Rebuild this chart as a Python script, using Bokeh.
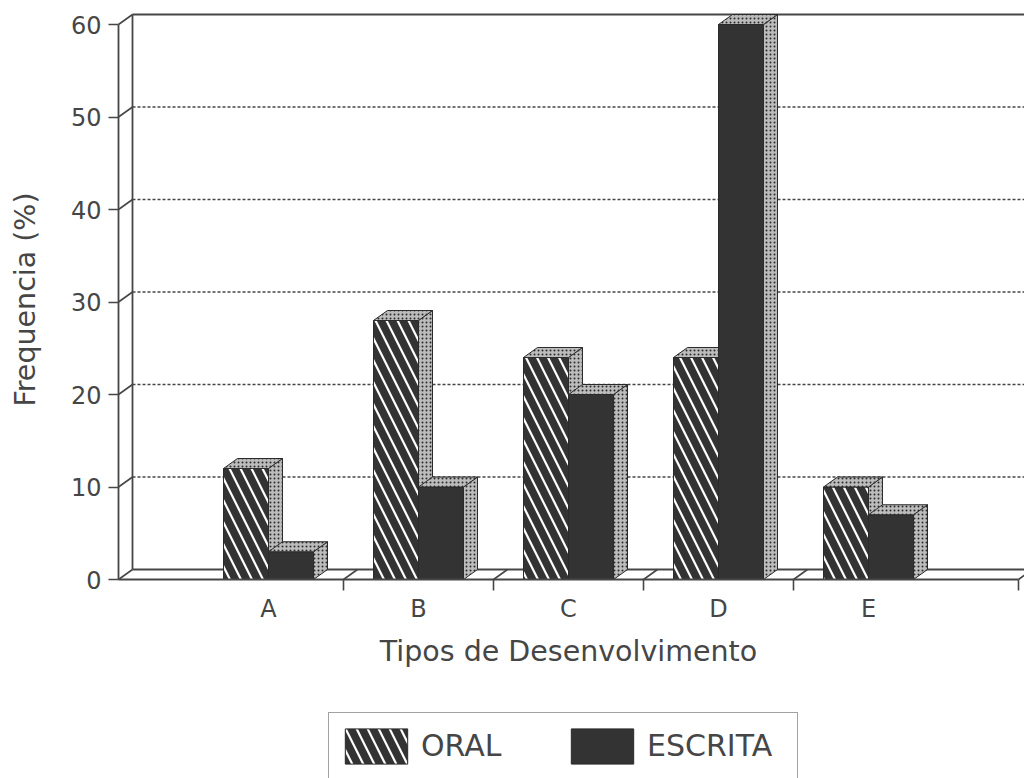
from math import pi

from bokeh.plotting import figure
from bokeh.models import Range1d, FixedTicker, Legend, LegendItem, Label, ColumnDataSource
from bokeh.embed import file_html
from bokeh.resources import INLINE

# ---- data -------------------------------------------------------------
categories = ["A", "B", "C", "D", "E"]
oral = [12, 28, 24, 24, 10]
escrita = [3, 10, 20, 60, 7]
y_ticks = [0, 10, 20, 30, 40, 50, 60]
series_names = ["ORAL", "ESCRITA"]

# ---- geometry / style -------------------------------------------------
W, H = 1024, 778
ORIGIN_X, ORIGIN_Y = 118, 579    # canvas position of the data origin (px)
X_PX = 150.0                     # px per category slot
Y_PX = 9.25                      # px per percentage point
DX = 14 / X_PX                   # depth of the 3D box, x direction
DY = 10 / Y_PX                   # depth of the 3D box, y direction
BAR_W = 0.3
Y_TOP = 60
X_END = len(categories) + 1

INK = "#464646"
BAR = "#333333"
FONT = "DejaVu Sans"

x_min, x_max = -ORIGIN_X / X_PX, (W - ORIGIN_X) / X_PX
y_min, y_max = -(H - ORIGIN_Y) / Y_PX, ORIGIN_Y / Y_PX

p = figure(width=W, height=H, x_range=Range1d(x_min, x_max), y_range=Range1d(y_min, y_max),
           output_backend="svg", toolbar_location=None,
           min_border_left=0, min_border_right=0, min_border_top=0, min_border_bottom=0)
p.outline_line_color = None
p.grid.visible = False
p.background_fill_color = "white"
p.border_fill_color = "white"

# ---- back wall and floor ---------------------------------------------
grid_vals = [v for v in y_ticks if 0 < v < Y_TOP]
p.multi_line(xs=[[DX, x_max] for _ in grid_vals], ys=[[v + DY, v + DY] for v in grid_vals],
             line_color=INK, line_width=1.3, line_dash="3 2")
p.line([DX, x_max], [Y_TOP + DY, Y_TOP + DY], line_color=INK, line_width=1.8)
p.line([DX, DX], [DY, Y_TOP + DY], line_color=INK, line_width=1.8)
p.line([DX, x_max], [DY, DY], line_color=INK, line_width=1.8)

# slanted depth strokes from the front axes to the back wall / floor
p.segment(x0=[0] * len(y_ticks), y0=y_ticks, x1=[DX] * len(y_ticks),
          y1=[v + DY for v in y_ticks], line_color=INK, line_width=1.6)
separators = [i + 1.5 for i in range(len(categories) - 1)] + [X_END]
p.segment(x0=separators, y0=[0] * len(separators), x1=[s + DX for s in separators],
          y1=[DY] * len(separators), line_color=INK, line_width=1.6)


# ---- 3D bars -----------------------------------------------------------
def faces(lefts, values):
    rights = [l + BAR_W for l in lefts]
    side_xs = [[r, r + DX, r + DX, r] for r in rights]
    side_ys = [[0, DY, v + DY, v] for v in values]
    top_xs = [[l, r, r + DX, l + DX] for l, r in zip(lefts, rights)]
    top_ys = [[v, v, v + DY, v + DY] for v in values]
    return rights, side_xs, side_ys, top_xs, top_ys


stipple = dict(fill_color="#bcbcbc", hatch_pattern="dot", hatch_color="#2b2b2b",
               hatch_scale=4, hatch_weight=2.4, line_color="#2b2b2b", line_width=1)

renderers = []
for k, values in enumerate([oral, escrita]):
    lefts = [i + 1 - BAR_W + k * BAR_W for i in range(len(categories))]
    rights, sxs, sys_, txs, tys = faces(lefts, values)
    src = ColumnDataSource(dict(left=lefts, right=rights, top=values,
                                bottom=[0] * len(values)))
    if k == 0:
        front = p.quad(left="left", right="right", top="top", bottom="bottom", source=src,
                       fill_color=BAR, line_color="#2b2b2b", line_width=1,
                       hatch_pattern="left_diagonal_line", hatch_color="white",
                       hatch_scale=22, hatch_weight=2.2)
    else:
        front = p.quad(left="left", right="right", top="top", bottom="bottom", source=src,
                       fill_color=BAR, line_color="#2b2b2b", line_width=1)
    p.patches(xs=sxs, ys=sys_, **stipple)
    p.patches(xs=txs, ys=tys, **stipple)
    renderers.append(front)

# ---- axes (pinned to the data origin) ----------------------------------
yax = p.yaxis[0]
yax.fixed_location = 0
yax.ticker = FixedTicker(ticks=y_ticks)
yax.bounds = (0, Y_TOP)
yax.major_tick_out = 10
yax.major_tick_in = 0
yax.minor_tick_out = 0
yax.minor_tick_in = 0
yax.axis_line_color = INK
yax.axis_line_width = 1.8
yax.major_tick_line_color = INK
yax.major_tick_line_width = 1.6
yax.major_label_text_font = FONT
yax.major_label_text_font_size = "24px"
yax.major_label_text_color = INK
yax.major_label_standoff = 7

xax = p.xaxis[0]
xax.fixed_location = 0
xax.ticker = FixedTicker(ticks=[i + 1 for i in range(len(categories))], minor_ticks=separators)
xax.major_label_overrides = {i + 1: c for i, c in enumerate(categories)}
xax.bounds = (0, X_END)
xax.major_tick_out = 0
xax.major_tick_in = 0
xax.minor_tick_out = 11
xax.minor_tick_in = 0
xax.axis_line_color = INK
xax.axis_line_width = 1.8
xax.minor_tick_line_color = INK
xax.minor_tick_line_width = 1.6
xax.major_label_text_font = FONT
xax.major_label_text_font_size = "24px"
xax.major_label_text_color = INK
xax.major_label_standoff = 4
xax.axis_label = "Tipos de Desenvolvimento"
xax.axis_label_text_font = FONT
xax.axis_label_text_font_size = "28.5px"
xax.axis_label_text_font_style = "normal"
xax.axis_label_text_color = INK
xax.axis_label_standoff = 9

p.add_layout(Label(x=-93 / X_PX, y=(ORIGIN_Y - 299) / Y_PX, text="Frequencia (%)",
                   angle=pi / 2, text_align="center", text_baseline="middle",
                   text_font=FONT, text_font_size="28.5px", text_color=INK))

# ---- legend (its lower edge runs off the bottom of the page) -----------
legend = Legend(items=[LegendItem(label=n, renderers=[r]) for n, r in zip(series_names, renderers)],
                orientation="horizontal", location=(328, -1), margin=0,
                padding=8, spacing=0, glyph_width=78, glyph_height=44,
                label_width=142, label_height=49, label_standoff=6,
                label_text_font=FONT, label_text_font_size="30px", label_text_color=INK,
                border_line_color=INK, border_line_width=1.6, background_fill_color="white",
                background_fill_alpha=1)
p.add_layout(legend, "center")

open("out.html", "w").write(file_html(p, INLINE))
